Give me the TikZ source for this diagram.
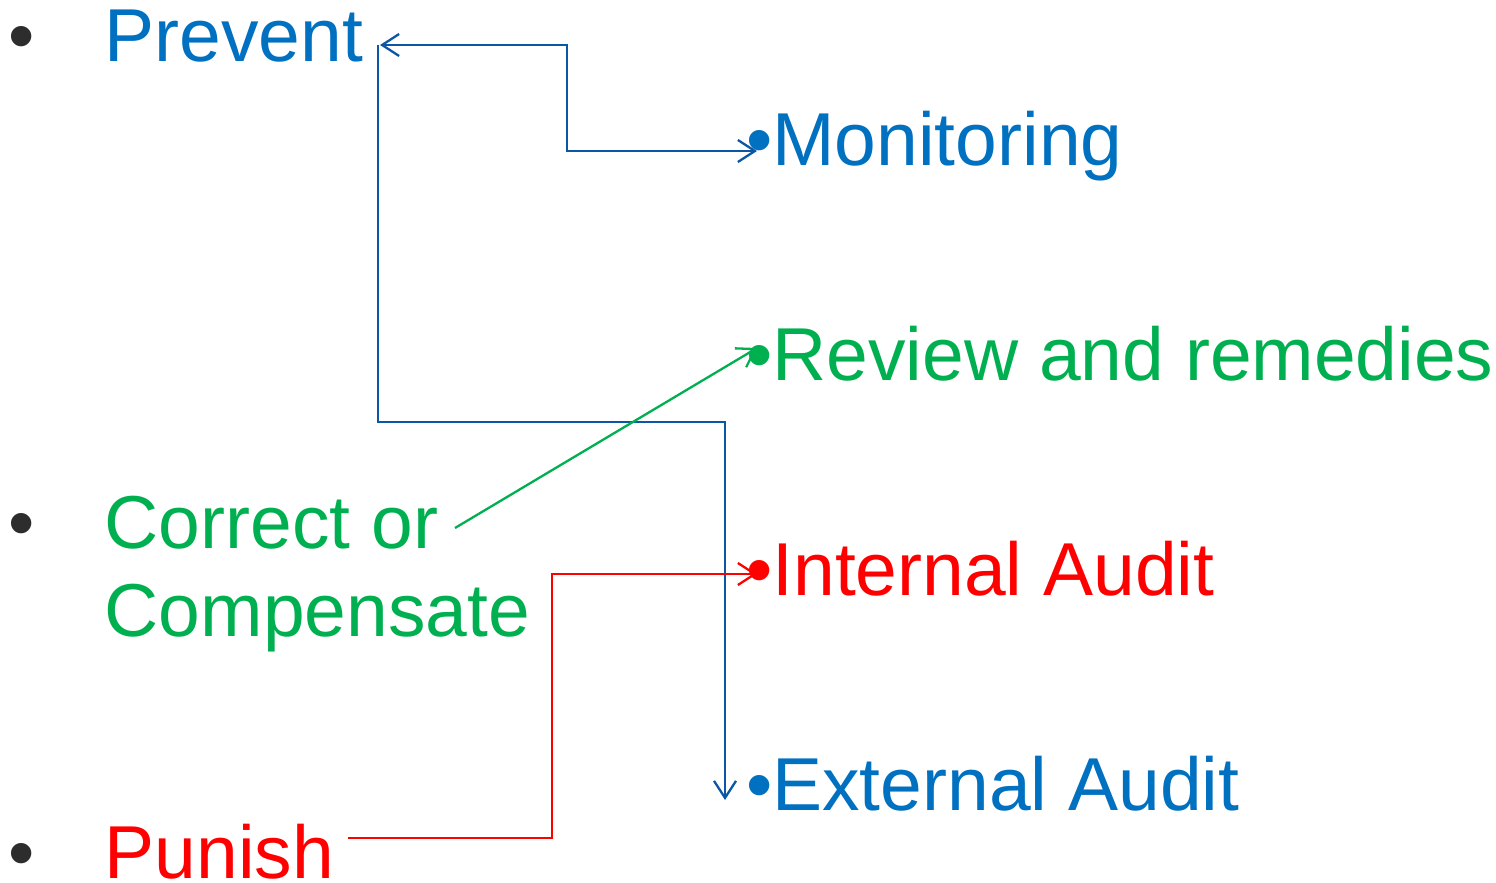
\documentclass[tikz,border=0pt]{standalone}
\usepackage{fontspec}
\setmainfont{Liberation Sans}
\usetikzlibrary{arrows.meta}
\definecolor{tblue}{RGB}{0,112,192}
\definecolor{lblue}{RGB}{12,86,166}
\definecolor{tgreen}{RGB}{0,176,80}
\definecolor{tred}{RGB}{255,0,0}
\definecolor{bgray}{RGB}{45,45,45}
\tikzset{
  txt/.style={anchor=base west, inner sep=0pt, font=\fontsize{75}{88}\selectfont},
  barb/.tip={Straight Barb[length=17pt,width=22pt,line width=2.3pt]},
  conn/.style={line width=2.3pt, line join=miter},
}
\begin{document}
\begin{tikzpicture}[x=1pt,y=-1pt]
\useasboundingbox (0,0) rectangle (1496,883);
% left items
\node[txt,text=bgray] (b1) at (8.5,62) {•};
\node[txt,text=tblue] (prevent) at (104.5,62) {Prevent};
\node[txt,text=bgray] (b2) at (8.5,548) {•};
\node[txt,text=tgreen] (correct) at (104.5,548) {Correct or};
\node[txt,text=tgreen] (compensate) at (104.5,636) {Compensate};
\node[txt,text=bgray] (b3) at (8.5,878) {•};
\node[txt,text=tred] (punish) at (104.5,878) {Punish};
% right items
\node[txt,text=tblue] (monitoring) at (746,165) {•Monitoring};
\node[txt,text=tgreen] (review) at (746,380) {•Review and remedies};
\node[txt,text=tred] (internal) at (746,595) {•Internal Audit};
\node[txt,text=tblue] (external) at (746,810) {•External Audit};
% connector end points
\coordinate (prevent-a) at (380,45);
\coordinate (prevent-b) at (378,45);
\coordinate (monitoring-in) at (757,151);
\coordinate (external-in) at (725,800);
\coordinate (correct-out) at (455,528);
\coordinate (review-in) at (757,348);
\coordinate (punish-out) at (348,838);
\coordinate (internal-in) at (757,574);
% connectors
\draw[conn,lblue,barb-barb] (prevent-a) -- (567,45) -- (567,151) -- (monitoring-in);
\draw[conn,lblue,-barb] (prevent-b) -- (378,422) -- (725,422) -- (external-in);
\draw[conn,tgreen,-barb] (correct-out) -- (review-in);
\draw[conn,tred,-barb] (punish-out) -- (552,838) -- (552,574) -- (internal-in);
\end{tikzpicture}
\end{document}
